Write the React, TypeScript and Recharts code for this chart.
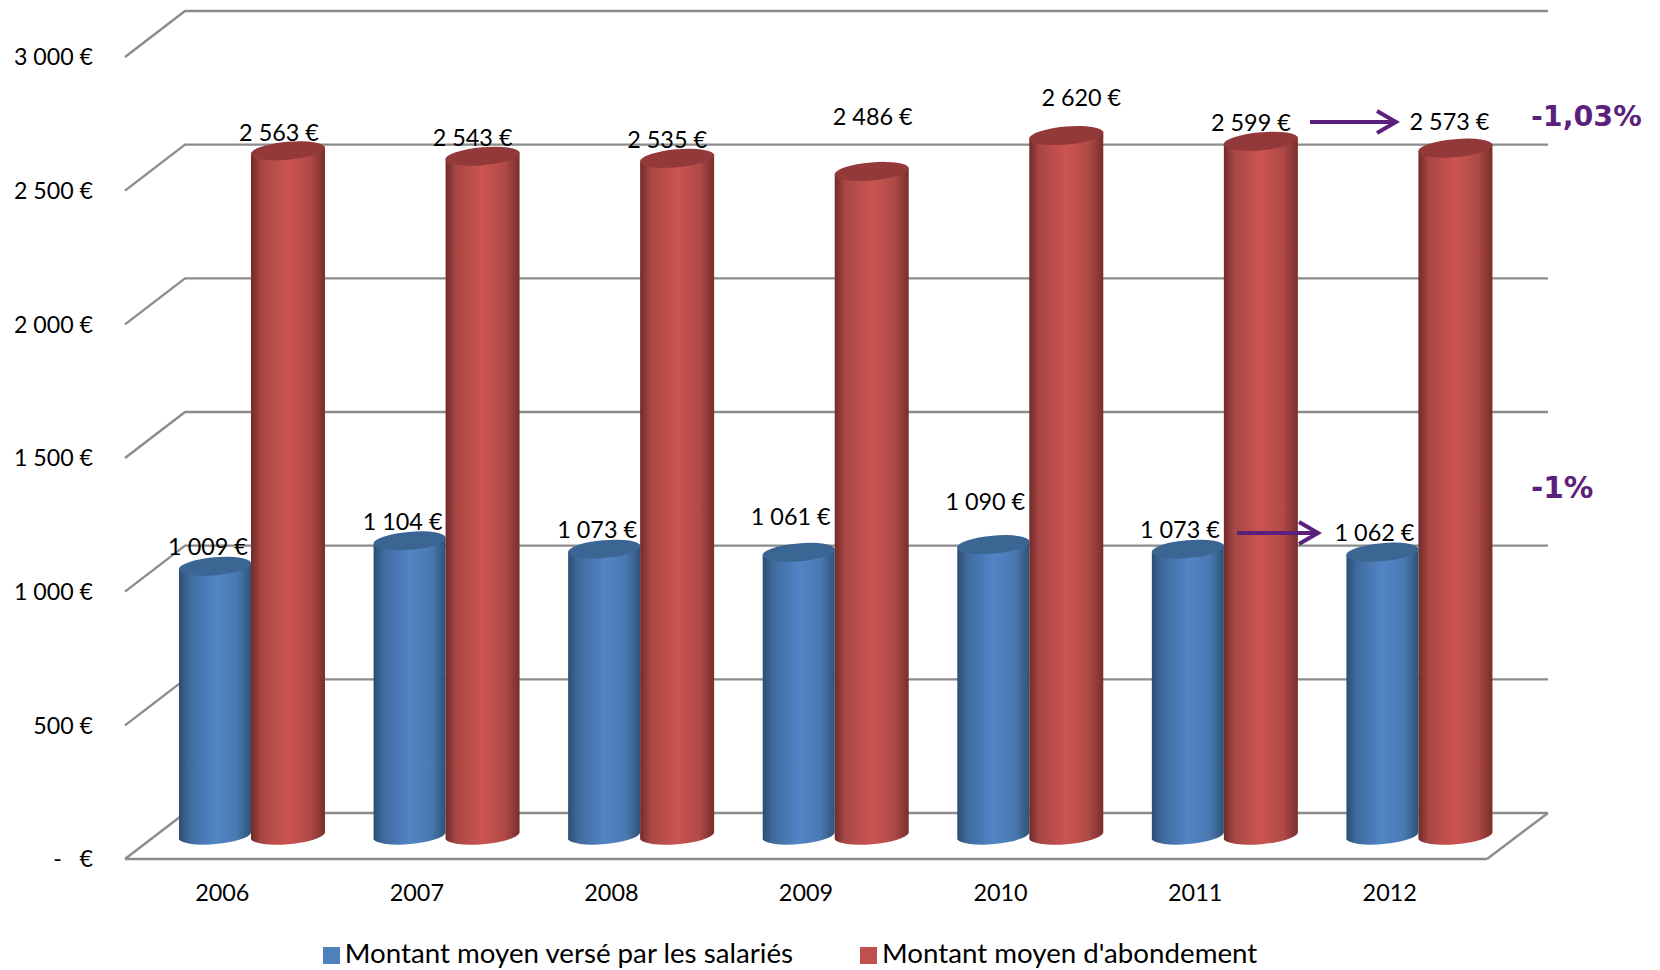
import React from 'react';
import { BarChart, Bar, XAxis, YAxis, CartesianGrid, Legend, LabelList } from 'recharts';

const years = ['2006', '2007', '2008', '2009', '2010', '2011', '2012'];
const salaries = [1009, 1104, 1073, 1061, 1090, 1073, 1062];
const abondement = [2563, 2543, 2535, 2486, 2620, 2599, 2573];
const valueTicks = [0, 500, 1000, 1500, 2000, 2500, 3000];

const chartData = years.map((year, i) => ({
  year,
  salaries: salaries[i],
  abondement: abondement[i],
}));

// the labels were moved by hand in the original sheet: [dx, dy] from the top of each cylinder
const salariesNudge = [[-7, -20], [-7, -20], [-7, -20], [-8, -36], [-8, -44], [-8, -20], [-8, -20]];
const abondementNudge = [[-8, -19], [-9, -19], [-9, -19], [2, -55], [16, -39], [-9, -19], [-5, -27]];

const FONT = 'Lato, sans-serif';
const W = 1660;
const H = 970;
const BAR_W = 72;
const DEPTH_X = 60;
const DEPTH_Y = 46;
const GRID = '#8c8c8c';
const PURPLE = '#5b1f7c';

const euro = (v: number) => {
  if (v === 0) return '-\u00a0\u00a0\u00a0€';
  const s = String(v);
  return s.length > 3 ? `${s.slice(0, -3)} ${s.slice(-3)} €` : `${s} €`;
};

// one gridline: the wall part, the slanted part on the left, and the floor edge on the right
function gridLine(p: any) {
  const { x1, y1, x2, y2 } = p;
  const isFloor = y1 > 800;
  return (
    <g key={`grid-${y1}`} stroke={GRID} strokeWidth={2.4} fill="none">
      <path d={`M${x1},${y1}L${x1 + DEPTH_X},${y1 - DEPTH_Y}L${x2 + DEPTH_X + 1},${y2 - DEPTH_Y}`} />
      {isFloor && <path d={`M${x2},${y2}L${x2 + DEPTH_X + 1},${y2 - DEPTH_Y}`} />}
    </g>
  );
}

function Cylinder(props: any) {
  const { x, y, width, height, gradient, cap, extra = 0 } = props;
  const left = x + 29;
  const right = left + width + extra;
  const top = y - DEPTH_Y / 2;
  const bottom = y + height - DEPTH_Y / 2;
  const rx = (width + extra) / 2 + 0.3;
  const ry = 9;
  const tilt = 3.2;
  return (
    <g>
      <path
        d={`M${left},${top + tilt}L${left},${bottom + tilt}A${rx},${ry} -5 0 0 ${right},${bottom - tilt}L${right},${top - tilt}Z`}
        fill={`url(#${gradient})`}
      />
      <ellipse
        cx={(left + right) / 2}
        cy={top}
        rx={rx}
        ry={ry}
        fill={cap}
        transform={`rotate(-5 ${(left + right) / 2} ${top})`}
      />
    </g>
  );
}

const valueLabel = (nudge: number[][]) => (p: any) => {
  const { x, y, width, value, index } = p;
  return (
    <text
      x={x + 29 + width / 2 + nudge[index][0]}
      y={y - DEPTH_Y / 2 + nudge[index][1]}
      textAnchor="middle"
      dominantBaseline="central"
      fontFamily={FONT}
      fontSize={23.4}
      fill="#000"
    >
      {euro(value)}
    </text>
  );
};

function Arrow({ x1, x2, y }: { x1: number; x2: number; y: number }) {
  return (
    <g stroke={PURPLE} strokeWidth={4} fill="none">
      <path d={`M${x1},${y}L${x2},${y}`} />
      <path d={`M${x2 - 19},${y - 11}L${x2},${y}L${x2 - 19},${y + 11}`} />
    </g>
  );
}

export default function App() {
  return (
    <div style={{ position: 'absolute', left: 0, top: 0, width: W, height: H }}>
      <BarChart
        width={W}
        height={H}
        data={chartData}
        barSize={BAR_W}
        barGap={0}
        margin={{ top: 57, right: 173, bottom: 18, left: 25 }}
      >
        <defs>
          <linearGradient id="blueCyl" x1="0" y1="0" x2="1" y2="0">
            <stop offset="0%" stopColor="#2c4d72" />
            <stop offset="14%" stopColor="#3f6a9d" />
            <stop offset="50%" stopColor="#5285c6" />
            <stop offset="80%" stopColor="#4a79b2" />
            <stop offset="100%" stopColor="#2f5379" />
          </linearGradient>
          <linearGradient id="redCyl" x1="0" y1="0" x2="1" y2="0">
            <stop offset="0%" stopColor="#6f2b2a" />
            <stop offset="14%" stopColor="#a84744" />
            <stop offset="50%" stopColor="#cb5451" />
            <stop offset="80%" stopColor="#b04a47" />
            <stop offset="100%" stopColor="#782e2c" />
          </linearGradient>
        </defs>
        <CartesianGrid vertical={false} horizontal={gridLine} />
        <XAxis
          dataKey="year"
          height={60}
          axisLine={{ stroke: GRID, strokeWidth: 2.4 }}
          tickLine={false}
          tickMargin={19}
          interval={0}
          tick={{ fill: '#000', fontSize: 23.4, fontFamily: FONT }}
        />
        <YAxis
          width={100}
          domain={[0, 3000]}
          ticks={valueTicks}
          interval={0}
          axisLine={false}
          tickLine={false}
          tickSize={0}
          tickMargin={32}
          tickFormatter={euro}
          tick={{ fill: '#000', fontSize: 23.2, fontFamily: FONT }}
        />
        <Legend
          verticalAlign="bottom"
          iconType="square"
          iconSize={17}
          itemSorter={null}
          wrapperStyle={{ bottom: 1, left: -35, width: W, fontFamily: FONT, fontSize: 27.7 }}
          formatter={(value: string, _e: any, i: number) => (
            <span style={{ color: '#000', marginLeft: 1, marginRight: i === 0 ? 57 : 0 }}>{value}</span>
          )}
        />
        <Bar
          dataKey="salaries"
          name="Montant moyen versé par les salariés"
          fill="#4f81bd"
          isAnimationActive={false}
          shape={(p: any) => <Cylinder {...p} gradient="blueCyl" cap="#3b6592" />}
        >
          <LabelList dataKey="salaries" content={valueLabel(salariesNudge)} />
        </Bar>
        <Bar
          dataKey="abondement"
          name="Montant moyen d'abondement"
          fill="#c0504d"
          isAnimationActive={false}
          shape={(p: any) => <Cylinder {...p} gradient="redCyl" cap="#94393a" extra={2} />}
        >
          <LabelList dataKey="abondement" content={valueLabel(abondementNudge)} />
        </Bar>
      </BarChart>
      {/* arrows and percentages sit on top of the bars, like the shapes pasted over the original chart */}
      <svg width={W} height={H} style={{ position: 'absolute', left: 0, top: 0, pointerEvents: 'none' }}>
        <Arrow x1={1310} x2={1396} y={122} />
        <Arrow x1={1237} x2={1318} y={533} />
        <text x={1531} y={116} dominantBaseline="central" fontFamily="DejaVu Sans" fontWeight={700} fontSize={28.5} fill={PURPLE}>-1,03%</text>
        <text x={1531} y={488} dominantBaseline="central" fontFamily="DejaVu Sans" fontWeight={700} fontSize={29.5} fill={PURPLE}>-1%</text>
      </svg>
    </div>
  );
}
